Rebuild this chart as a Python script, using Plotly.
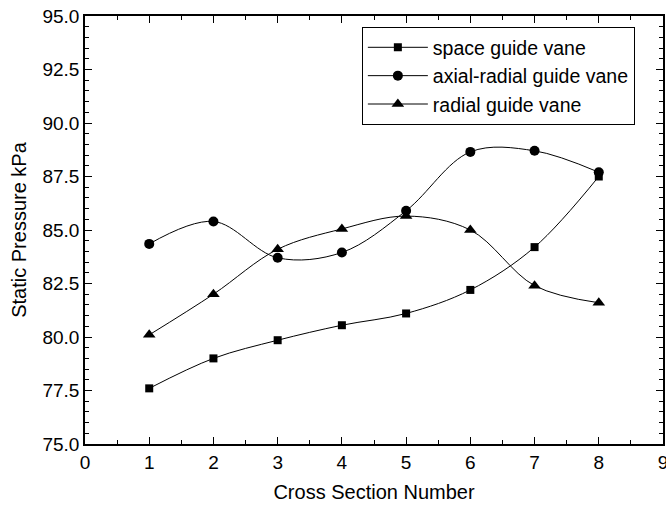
import plotly.graph_objects as go

sections = [1, 2, 3, 4, 5, 6, 7, 8]
space_guide_vane = [77.6, 79.0, 79.85, 80.55, 81.1, 82.2, 84.2, 87.5]
axial_radial_guide_vane = [84.35, 85.4, 83.7, 83.95, 85.9, 88.65, 88.7, 87.7]
radial_guide_vane = [80.1, 82.0, 84.1, 85.05, 85.65, 85.0, 82.4, 81.6]

x_range = [0, 9]
y_range = [75, 95]

FONT = "Liberation Sans"

fig = go.Figure()
series = [
    ("space guide vane", space_guide_vane, "square", 8),
    ("axial-radial guide vane", axial_radial_guide_vane, "circle", 10),
    ("radial guide vane", radial_guide_vane, "triangle-up", 11),
]
for name, vals, sym, size in series:
    fig.add_trace(go.Scatter(
        x=sections, y=vals, name=name, mode="lines+markers",
        line=dict(color="black", width=1, shape="spline", smoothing=1),
        marker=dict(symbol=sym, size=size, color="black"),
    ))

axis_common = dict(
    showline=True, linecolor="black", linewidth=1.5, mirror="allticks",
    ticks="inside", ticklen=7, tickwidth=1.2, tickcolor="black",
    showgrid=False, zeroline=False, ticklabeloverflow="allow",
    tickfont=dict(family=FONT, size=19, color="black"),
)

fig.update_layout(
    xaxis=dict(
        **axis_common, range=x_range, tick0=0, dtick=1,
        minor=dict(ticks="inside", ticklen=4, tickwidth=1.2, tickcolor="black", nticks=2),
        title=dict(text="Cross Section Number", font=dict(family=FONT, size=20, color="black"), standoff=13),
    ),
    yaxis=dict(
        **axis_common, range=y_range, tick0=75, dtick=2.5, tickformat=".1f",
        minor=dict(ticks="inside", ticklen=4, tickwidth=1.2, tickcolor="black", nticks=10),
        title=dict(text="Static Pressure kPa", font=dict(family=FONT, size=20, color="black"), standoff=10),
    ),
)

fig.update_layout(
    width=666, height=508,
    margin=dict(l=85, r=3, t=16, b=64, autoexpand=False),
    paper_bgcolor="white", plot_bgcolor="white",
    font=dict(family=FONT, color="black"),
    legend=dict(
        x=0.479, y=0.974, xanchor="left", yanchor="top",
        bordercolor="black", borderwidth=1, bgcolor="white",
        font=dict(family=FONT, size=19.5, color="black"),
        tracegroupgap=0, itemwidth=60,
    ),
    showlegend=True,
)

fig.write_html("out.html")
